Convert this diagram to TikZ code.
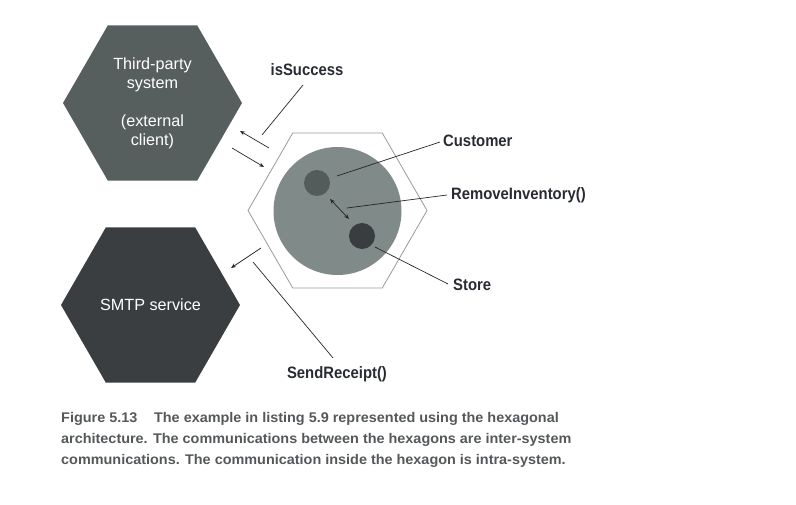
\documentclass[tikz,border=0pt]{standalone}
\usepackage{fontspec}
\setmainfont{Liberation Sans}
\newfontfamily\labfont[FakeStretch=0.9]{Liberation Sans}
\newfontfamily\capfont[FakeStretch=1.03]{Liberation Sans}
\usetikzlibrary{shapes.geometric,arrows.meta}
\definecolor{hexA}{RGB}{86,94,94}
\definecolor{hexB}{RGB}{58,62,64}
\definecolor{bigc}{RGB}{128,138,136}
\definecolor{custc}{RGB}{83,92,91}
\definecolor{storec}{RGB}{57,61,63}
\definecolor{outl}{RGB}{150,155,155}
\definecolor{labc}{RGB}{40,43,50}
\definecolor{capc}{RGB}{85,88,90}
\begin{document}
\begin{tikzpicture}[x=1pt,y=-1pt,
  hexbox/.style={regular polygon,regular polygon sides=6,minimum size=179pt,inner sep=0pt,
    text=white,align=center,font=\fontsize{16.2}{19}\selectfont},
  lab/.style={anchor=base west,inner sep=0pt,text=labc,font=\labfont\bfseries\fontsize{16.5}{19}\selectfont},
  capline/.style={anchor=base west,inner sep=0pt,text=capc,font=\capfont\bfseries\fontsize{14}{21}\selectfont},
  leader/.style={draw=black!85,line width=0.7pt},
  flow/.style={draw=black!85,line width=0.7pt,-{Stealth[length=5pt,width=4pt]}},
  dflow/.style={draw=black!85,line width=0.7pt,{Stealth[length=5pt,width=4pt]}-{Stealth[length=5pt,width=4pt]}}]
\useasboundingbox (0,0) rectangle (796,505);
% hexagons
\node[hexbox,fill=hexA] (third) at (152.5,103) {Third-party\\system\\[19pt](external\\client)};
\node[hexbox,fill=hexB] (smtp) at (150.5,305) {SMTP service};
\node[hexbox,draw=outl,line width=0.8pt] (core) at (337.5,210.5) {};
% circles
\node[circle,fill=bigc,minimum size=128pt,inner sep=0pt] (domain) at (337.5,211) {};
\node[circle,fill=custc,minimum size=26pt,inner sep=0pt] (cust) at (317,183) {};
\node[circle,fill=storec,minimum size=26pt,inner sep=0pt] (store) at (362,236) {};
% labels
\node[lab,anchor=base] (iss) at (307,76) {isSuccess};
\node[lab] (custl) at (443,147) {Customer};
\node[lab] (reml) at (451,200) {RemoveInventory()};
\node[lab] (storel) at (453,291) {Store};
\node[lab,anchor=base] (sendl) at (337,378) {SendReceipt()};
% coordinates
\coordinate (issA) at (303,85);
\coordinate (issB) at (262,135);
\coordinate (custA) at (337,176);
\coordinate (custB) at (440,142);
\coordinate (remA) at (347,208);
\coordinate (remB) at (447,195);
\coordinate (stA) at (375,247);
\coordinate (stB) at (448,284);
\coordinate (sendA) at (253,262);
\coordinate (sendB) at (333,358);
\coordinate (a1s) at (269,148);
\coordinate (a1e) at (240,131);
\coordinate (a2s) at (232,148);
\coordinate (a2e) at (264,167);
\coordinate (a3s) at (261,248);
\coordinate (a3e) at (231,268);
\coordinate (dA) at (330,199);
\coordinate (dB) at (349,219);
% leader lines
\draw[leader] (issA) -- (issB);
\draw[leader] (custA) -- (custB);
\draw[leader] (remA) -- (remB);
\draw[leader] (stA) -- (stB);
\draw[leader] (sendA) -- (sendB);
% arrows
\draw[flow] (a1s) -- (a1e);
\draw[flow] (a2s) -- (a2e);
\draw[flow] (a3s) -- (a3e);
\draw[dflow] (dA) -- (dB);
% caption
\node[capline] (cap1) at (61,422) {Figure 5.13\hspace{1.2em}The example in listing 5.9 represented using the hexagonal};
\node[capline] (cap2) at (61,443) {architecture. The communications between the hexagons are inter-system};
\node[capline] (cap3) at (61,464) {communications. The communication inside the hexagon is intra-system.};
\end{tikzpicture}
\end{document}
